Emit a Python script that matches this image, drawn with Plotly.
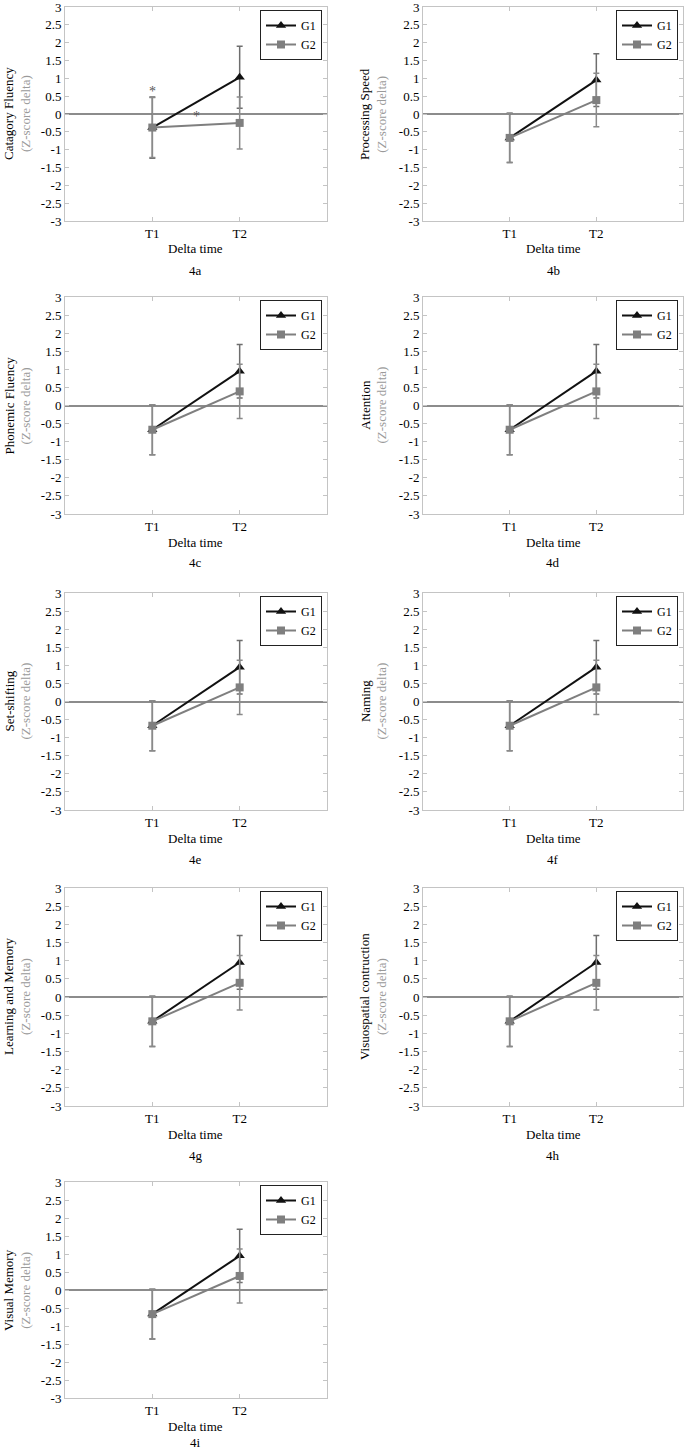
import plotly.graph_objects as go

W, H = 685, 1450

# ---------------- data ----------------
times = ["T1", "T2"]
panel_labels = ["4a", "4b", "4c", "4d", "4e", "4f", "4g", "4h", "4i"]
domain_names = ["Catagory Fluency", "Processing Speed", "Phonemic Fluency", "Attention",
                "Set-shifting", "Naming", "Learning and Memory",
                "Visuospatial contruction", "Visual Memory"]
g1_mean = [[-0.38, 1.03], [-0.67, 0.95], [-0.67, 0.95], [-0.67, 0.95], [-0.67, 0.95],
           [-0.67, 0.95], [-0.67, 0.95], [-0.67, 0.95], [-0.67, 0.95]]
g1_err = [[0.86, 0.87], [0.69, 0.74], [0.69, 0.74], [0.69, 0.74], [0.69, 0.74],
          [0.69, 0.74], [0.69, 0.74], [0.69, 0.74], [0.69, 0.74]]
g2_mean = [[-0.38, -0.25], [-0.67, 0.39], [-0.67, 0.39], [-0.67, 0.39], [-0.67, 0.39],
           [-0.67, 0.39], [-0.67, 0.39], [-0.67, 0.39], [-0.67, 0.39]]
g2_err = [[0.84, 0.73], [0.69, 0.75], [0.69, 0.75], [0.69, 0.75], [0.69, 0.75],
          [0.69, 0.75], [0.69, 0.75], [0.69, 0.75], [0.69, 0.75]]
# significance asterisks (panel 4a only): category-index x, value y
star_x = [0, 0.5]
star_y = [0.72, 0.03]
y_tickvals = [3, 2.5, 2, 1.5, 1, 0.5, 0, -0.5, -1, -1.5, -2, -2.5, -3]
y_ticktext = ["3", "2.5", "2", "1.5", "1", "0.5", "0", "-0.5", "-1", "-1.5", "-2", "-2.5", "-3"]

# ---------------- layout geometry (pixels) ----------------
row_tops = [7, 297, 593, 888, 1182]
row_bots = [221, 514, 810, 1106, 1398]
col_lr = [(65, 327), (423, 683)]
ytitle_x = [17, 373]

FONT = "Liberation Serif"
FRAME = "#c4c4c4"
BLACK = "#111111"
GREY = "#7f7f7f"

fig = go.Figure()
annotations = []
layout = dict(
    width=W, height=H, margin=dict(l=0, r=0, t=0, b=0, autoexpand=False),
    paper_bgcolor="white", plot_bgcolor="white",
    font=dict(family=FONT, size=13, color="black"),
)

for i in range(len(panel_labels)):
    r, c = divmod(i, 2)
    left, right = col_lr[c]
    top, bot = row_tops[r], row_bots[r]
    xd = [left / W, right / W]
    yd = [1 - bot / H, 1 - top / H]
    n = "" if i == 0 else str(i + 1)
    xa, ya = "x" + n, "y" + n
    lg = "legend" + n

    fig.add_trace(go.Scatter(
        x=times, y=g1_mean[i], name="G1", mode="lines+markers",
        line=dict(color=BLACK, width=2),
        marker=dict(symbol="triangle-up", size=9, color=BLACK),
        error_y=dict(type="data", array=g1_err[i], color="#6e6e6e", thickness=1.5, width=3),
        xaxis=xa, yaxis=ya, legend=lg))
    fig.add_trace(go.Scatter(
        x=times, y=g2_mean[i], name="G2", mode="lines+markers",
        line=dict(color=GREY, width=2),
        marker=dict(symbol="square", size=8, color=GREY),
        error_y=dict(type="data", array=g2_err[i], color="#8a8a8a", thickness=1.5, width=3),
        xaxis=xa, yaxis=ya, legend=lg))

    layout["xaxis" + n] = dict(
        domain=xd, anchor=ya, type="category", categoryorder="array", categoryarray=times,
        range=[-1, 2], showline=True, linecolor=FRAME, linewidth=1, mirror="ticks",
        ticks="inside", ticklen=4, tickcolor=FRAME, showgrid=False, zeroline=False,
        automargin=False,
        tickfont=dict(family=FONT, size=13, color="black"), fixedrange=True)
    layout["yaxis" + n] = dict(
        domain=yd, anchor=xa, range=[-3, 3], tickvals=y_tickvals, ticktext=y_ticktext,
        showline=True, linecolor=FRAME, linewidth=1, mirror="ticks",
        ticks="inside", ticklen=4, tickcolor=FRAME, showgrid=False,
        zeroline=True, zerolinecolor="#8c8c8c", zerolinewidth=1.5, automargin=False,
        ticklabeloverflow="allow",
        tickfont=dict(family=FONT, size=13, color="black"), fixedrange=True)
    layout[lg] = dict(
        x=(right - 5) / W, y=1 - (top + 3) / H, xanchor="right", yanchor="top",
        bgcolor="white", bordercolor="#222222", borderwidth=1,
        font=dict(family=FONT, size=12, color="black"),
        tracegroupgap=0, itemwidth=30)

    # y-axis title (two lines, second grey)
    annotations.append(dict(
        xref="paper", yref="paper", x=ytitle_x[c] / W, y=1 - (top + bot) / 2 / H,
        text=domain_names[i] + "<br><span style='color:#9a9a9a'>(Z-score delta)</span>",
        textangle=-90, showarrow=False, xanchor="center", yanchor="middle",
        font=dict(family=FONT, size=13, color="black")))
    # x-axis title and panel label
    cx = (left + right) / 2 / W
    annotations.append(dict(
        xref="paper", yref="paper", x=cx, y=1 - (bot + 28) / H, text="Delta time",
        showarrow=False, xanchor="center", yanchor="middle",
        font=dict(family=FONT, size=13, color="black")))
    annotations.append(dict(
        xref="paper", yref="paper", x=cx, y=1 - min(bot + 49, H - 8) / H, text=panel_labels[i],
        showarrow=False, xanchor="center", yanchor="middle",
        font=dict(family=FONT, size=13, color="black")))

    if i == 0:
        for sx, sy in zip(star_x, star_y):
            annotations.append(dict(
                xref=xa, yref=ya, x=sx, y=sy, text="*", showarrow=False,
                xanchor="center", yanchor="bottom", yshift=-13,
                font=dict(family=FONT, size=14, color="#555555")))

layout["annotations"] = annotations
fig.update_layout(**layout)
fig.write_html("out.html", config={"displayModeBar": False},
               post_script="document.body.style.margin='0';")
